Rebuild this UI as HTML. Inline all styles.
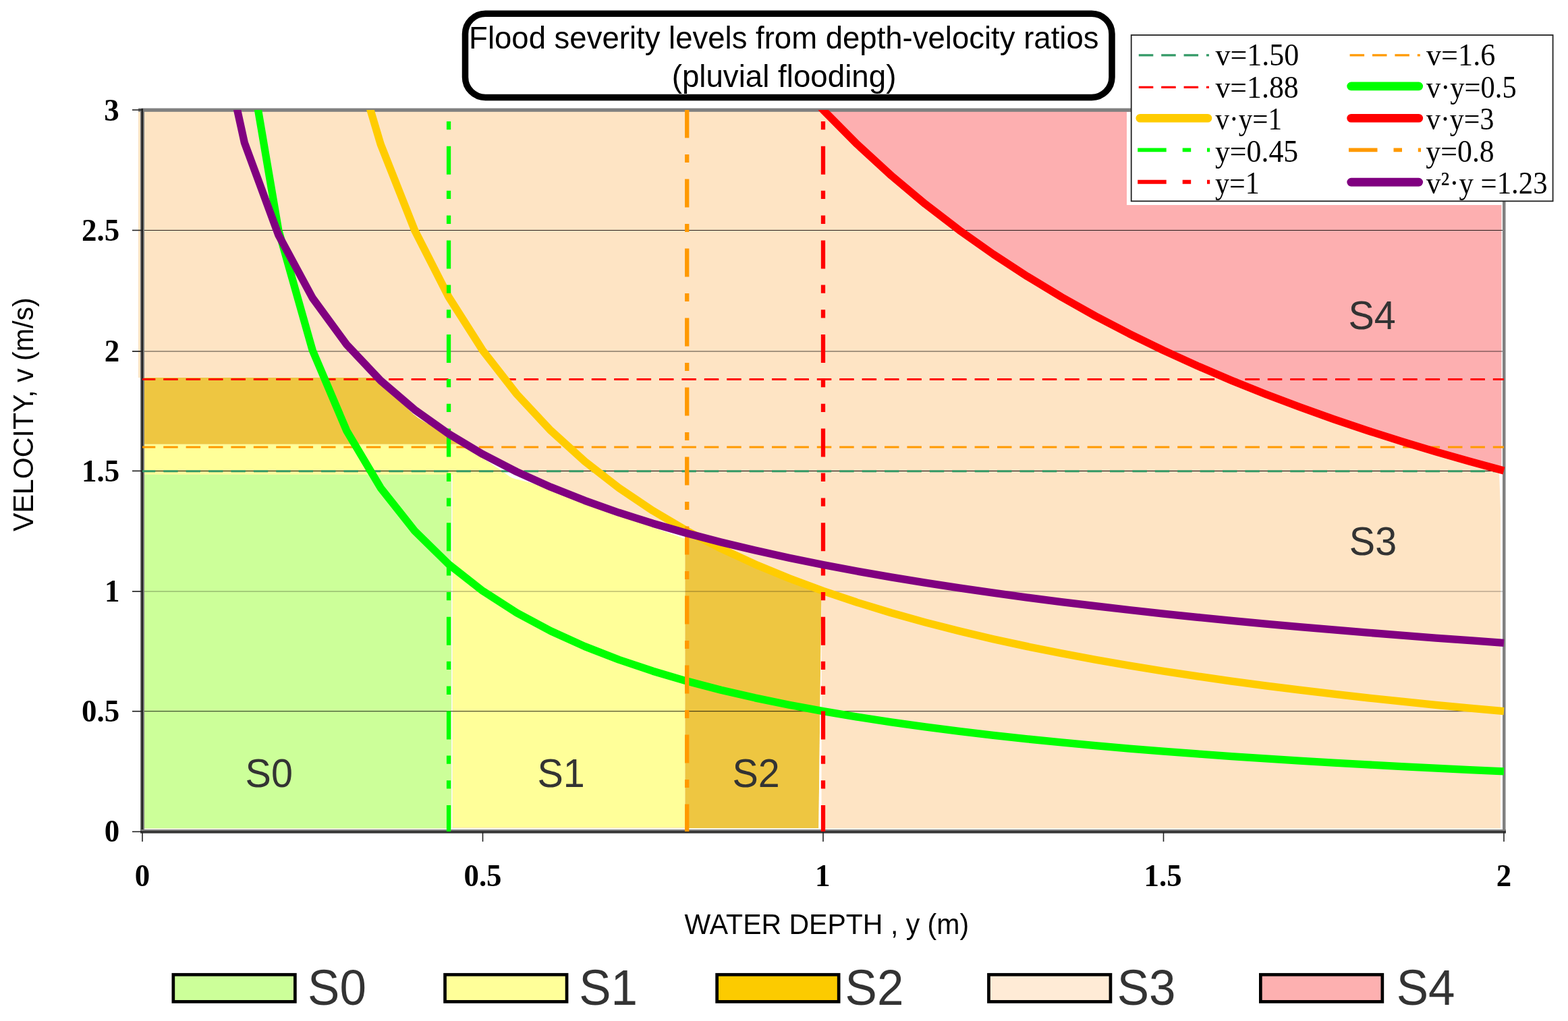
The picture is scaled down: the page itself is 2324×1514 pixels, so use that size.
<!DOCTYPE html>
<html><head><meta charset="utf-8"><title>Flood severity levels</title>
<style>html,body{margin:0;padding:0;background:#fff;overflow:hidden;}svg{display:block;}</style>
</head><body>
<svg width="2324" height="1514" viewBox="0 0 2324 1514">
<defs><clipPath id="pa"><rect x="205" y="163" width="2025.5" height="1070"/></clipPath></defs>
<rect x="0" y="0" width="2324" height="1514" fill="#fff"/>
<rect x="205" y="163" width="6" height="397" fill="#FEE4C4"/>
<rect x="211" y="163" width="2013" height="1065.5" fill="#FEE4C4"/>
<polygon points="1220,163 1220,162.99 1270.45,213.94 1320.9,260.26 1371.35,302.56 1421.8,341.32 1472.25,376.99 1522.7,409.92 1573.15,440.4 1623.6,468.71 1674.05,495.06 1724.5,519.66 1774.95,542.67 1825.4,564.24 1875.85,584.51 1926.3,603.58 1976.75,621.57 2027.2,638.55 2077.65,654.62 2128.1,669.84 2178.55,684.28 2225.5,693 2225.5,163" fill="#FDAFB0"/>
<polygon points="211,560 555.14,560 561.15,567.37 611.6,610.55 662.05,646.32 689.79,658.8 211,658.8" fill="#EEC641"/>
<rect x="211" y="658.8" width="460" height="44.9" fill="#FFFF99"/>
<polygon points="670.5,1227.2 670.5,658.8 691.79,658.8 715.5,677.58 765.95,703.62 816.4,726.33 866.85,746.36 917.3,764.21 967.75,780.24 1018.2,794.74 1015.5,794.74 1015.5,1227.2" fill="#FFFF99"/>
<rect x="211" y="703.7" width="458.2" height="524.8" fill="#CCFF99"/>
<rect x="669.2" y="703.7" width="1.3" height="524.8" fill="#fff"/>
<polygon points="1015.5,1228 1015.5,794.74 1068.65,813.39 1119.1,836.7 1169.55,857.56 1217.5,876.33 1213.3,1228" fill="#EEC641"/>
<polygon points="1217.5,876.33 1217.6,1228.5 1213.3,1228.5" fill="#fff"/>
<polygon points="2222,700 2227,700 2227,1228.5 2225.6,1228.5 2225.6,800" fill="#fff"/>
<polygon points="718,674.88 721.12,676.49 724.25,678.1 727.38,679.71 730.5,681.33 733.62,682.94 736.75,684.55 739.88,686.16 743,687.78 746.12,689.39 749.25,691 752.38,692.61 755.5,694.23 758.62,695.84 761.75,697.45 764.88,699.06 768,700.54 771.12,701.95 774.25,703.35 777.38,704.76 780.5,706.17 783.62,707.57 786.75,708.98 789.88,710.39 793,711.79 793,717.99 789.88,717.1 786.75,716.22 783.62,715.33 780.5,714.45 777.38,713.56 774.25,712.7 771.12,711.9 768,711.1 764.88,710.39 761.75,709.39 758.62,708.38 755.5,706.78 752.38,704.52 749.25,702.26 746.12,700.01 743,697.75 739.88,695.5 736.75,693.47 733.62,691.43 730.5,689.39 727.38,687.35 724.25,685.31 721.12,683.27 718,681.23" fill="#fff"/>
<polygon points="967,776 969.02,776.6 971.04,777.19 973.06,777.77 975.08,778.35 977.1,778.93 979.12,779.51 981.15,780.09 983.17,780.67 985.19,781.25 987.21,781.83 989.23,782.41 991.25,783 993.27,783.58 995.29,784.16 997.31,784.74 999.33,785.32 1001.35,785.9 1003.38,786.48 1005.4,787.06 1007.42,787.64 1009.44,788.22 1011.46,788.81 1013.48,789.39 1015.5,789.97 1015.5,798.85 1013.48,798.27 1011.46,797.65 1009.44,796.93 1007.42,796.21 1005.4,795.49 1003.38,794.77 1001.35,794.05 999.33,793.33 997.31,792.62 995.29,791.9 993.27,791.18 991.25,790.46 989.23,789.74 987.21,789.03 985.19,788.32 983.17,787.6 981.15,786.89 979.12,786.18 977.1,785.47 975.08,784.75 973.06,784.04 971.04,783.33 969.02,782.62 967,781.93" fill="#fff"/>
<polygon points="605,599.34 606.23,600.39 607.47,601.45 608.7,602.5 609.93,603.56 611.17,604.62 612.4,605.67 613.63,606.73 614.87,607.74 616.1,608.62 617.33,609.49 618.57,610.37 619.8,611.24 621.03,612.12 622.27,612.99 623.5,613.87 624.73,614.74 625.97,615.61 627.2,616.49 628.43,617.36 629.67,618.24 630.9,619.11 632.13,619.99 633.37,620.86 634.6,621.74 634.6,628.66 633.37,627.92 632.13,627.18 630.9,626.44 629.67,625.7 628.43,624.96 627.2,624.23 625.97,623.49 624.73,622.75 623.5,622.01 622.27,621.27 621.03,620.53 619.8,619.75 618.57,618.74 617.33,617.73 616.1,616.73 614.87,615.72 613.63,615.09 612.4,613.9 611.17,612.71 609.93,611.52 608.7,610.34 607.47,609.15 606.23,607.96 605,606.77" fill="#fff"/>
<g stroke="#000" stroke-width="1">
<line x1="196" y1="341.5" x2="2227" y2="341.5" stroke-opacity="0.85"/>
<line x1="196" y1="521" x2="2227" y2="521" stroke-opacity="0.7"/>
<line x1="196" y1="698.4" x2="2227" y2="698.4"/>
<line x1="196" y1="877" x2="2227" y2="877" stroke-opacity="0.4"/>
<line x1="196" y1="1054.7" x2="2227" y2="1054.7" stroke-opacity="0.85"/>
</g>
<rect x="1670" y="166" width="560" height="138" fill="#fff"/>
<rect x="205" y="160.5" width="1471" height="5.3" fill="#808080"/>
<rect x="2227" y="298" width="4.5" height="935" fill="#808080"/>
<rect x="208" y="161" width="6" height="1075" fill="#7a7a7a"/>
<rect x="209.5" y="161" width="2.5" height="1075" fill="#222"/>
<rect x="208" y="1230" width="2024" height="6" fill="#7a7a7a"/>
<rect x="208" y="1232.3" width="2024" height="2.5" fill="#2a2a2a"/>
<g stroke="#222" stroke-width="1.6">
<line x1="196" y1="1233.3" x2="210" y2="1233.3"/>
<line x1="196" y1="1054.7" x2="210" y2="1054.7"/>
<line x1="196" y1="877" x2="210" y2="877"/>
<line x1="196" y1="698.4" x2="210" y2="698.4"/>
<line x1="196" y1="521" x2="210" y2="521"/>
<line x1="196" y1="341.5" x2="210" y2="341.5"/>
<line x1="196" y1="163" x2="210" y2="163"/>
<line x1="211" y1="1234" x2="211" y2="1248"/>
<line x1="715.5" y1="1234" x2="715.5" y2="1248"/>
<line x1="1220" y1="1234" x2="1220" y2="1248"/>
<line x1="1724.5" y1="1234" x2="1724.5" y2="1248"/>
<line x1="2229" y1="1234" x2="2229" y2="1248"/>
</g>
<g clip-path="url(#pa)" stroke-width="3" fill="none">
<line x1="211" y1="698.7" stroke-dashoffset="2.2" x2="2229" y2="698.7" stroke="#339966" stroke-dasharray="21.5 11.9"/>
<line x1="211" y1="663.1" stroke-dashoffset="2.2" x2="2229" y2="663.1" stroke="#FF9900" stroke-dasharray="21.5 11.9"/>
<line x1="211" y1="562.6" stroke-dashoffset="2.2" x2="2229" y2="562.6" stroke="#FF0000" stroke-dasharray="21.5 11.9"/>
</g>
<g clip-path="url(#pa)" fill="none" stroke-width="11.3" stroke-linejoin="round">
<polyline points="362.35,44.1 412.8,341.32 463.25,519.66 513.7,638.55 564.15,723.47 614.6,787.16 665.05,836.7 715.5,876.33 765.95,908.75 816.4,935.77 866.85,958.64 917.3,978.24 967.75,995.22 1018.2,1010.08 1068.65,1023.19 1119.1,1034.85 1169.55,1045.28 1220,1054.66 1270.45,1063.16 1320.9,1070.88 1371.35,1077.93 1421.8,1084.39 1472.25,1090.33 1522.7,1095.82 1573.15,1100.9 1623.6,1105.62 1674.05,1110.01 1724.5,1114.11 1774.95,1117.95 1825.4,1121.54 1875.85,1124.92 1926.3,1128.1 1976.75,1131.09 2027.2,1133.92 2077.65,1136.6 2128.1,1139.14 2178.55,1141.55 2229,1143.83" stroke="#00FF00"/>
<polyline points="513.7,44.1 564.15,213.94 614.6,341.32 665.05,440.4 715.5,519.66 765.95,584.51 816.4,638.55 866.85,684.28 917.3,723.47 967.75,757.44 1018.2,787.16 1068.65,813.39 1119.1,836.7 1169.55,857.56 1220,876.33 1270.45,893.31 1320.9,908.75 1371.35,922.85 1421.8,935.77 1472.25,947.66 1522.7,958.64 1573.15,968.8 1623.6,978.24 1674.05,987.02 1724.5,995.22 1774.95,1002.89 1825.4,1010.08 1875.85,1016.84 1926.3,1023.19 1976.75,1029.19 2027.2,1034.85 2077.65,1040.21 2128.1,1045.28 2178.55,1050.09 2229,1054.66" stroke="#FFCC00"/>
<polyline points="1169.55,106.67 1220,162.99 1270.45,213.94 1320.9,260.26 1371.35,302.56 1421.8,341.32 1472.25,376.99 1522.7,409.92 1573.15,440.4 1623.6,468.71 1674.05,495.06 1724.5,519.66 1774.95,542.67 1825.4,564.24 1875.85,584.51 1926.3,603.58 1976.75,621.57 2027.2,638.55 2077.65,654.62 2128.1,669.84 2178.55,684.28 2229,698" stroke="#FF0000"/>
</g>
<g clip-path="url(#pa)" stroke-width="6.3" fill="none">
<line x1="665.05" y1="1236" x2="665.05" y2="163" stroke="#00FF00" stroke-dasharray="42 24.5 12.3 24.5 12.3 24"/>
<line x1="1018.2" y1="1234.5" x2="1018.2" y2="163" stroke="#FF9900" stroke-dasharray="42 24.5 12 24.5"/>
<line x1="1220" y1="1236" x2="1220" y2="163" stroke="#FF0000" stroke-dasharray="42 24.5 12.3 24.5 12.3 24"/>
</g>
<g clip-path="url(#pa)" fill="none" stroke-width="11.3" stroke-linejoin="round">
<polyline points="311.9,-17.89 362.35,211.65 412.8,348.49 463.25,441.87 513.7,510.8 564.15,564.37 614.6,607.55 665.05,643.32 715.5,673.58 765.95,699.62 816.4,722.33 866.85,742.36 917.3,760.21 967.75,776.24 1018.2,790.74 1068.65,803.95 1119.1,816.04 1169.55,827.16 1220,837.43 1270.45,846.97 1320.9,855.84 1371.35,864.13 1421.8,871.9 1472.25,879.19 1522.7,886.07 1573.15,892.55 1623.6,898.69 1674.05,904.5 1724.5,910.02 1774.95,915.27 1825.4,920.28 1875.85,925.05 1926.3,929.61 1976.75,933.98 2027.2,938.16 2077.65,942.17 2128.1,946.03 2178.55,949.73 2229,953.29" stroke="#800080"/>
</g>
<rect x="689.5" y="20.2" width="958.5" height="124.3" rx="30" ry="30" fill="#fff" stroke="#000" stroke-width="9.5"/>
<rect x="1676.7" y="52" width="624.9" height="246.3" fill="#fff" stroke="#222" stroke-width="1.8"/>
<line x1="1687.8" y1="81.9" x2="1792" y2="81.9" stroke="#339966" stroke-width="3.2" stroke-dasharray="21.5 11.9"/>
<line x1="2000.6" y1="81.9" x2="2104.8" y2="81.9" stroke="#FF9900" stroke-width="3.2" stroke-dasharray="21.5 11.9"/>
<line x1="1687.8" y1="129.3" x2="1792" y2="129.3" stroke="#FF0000" stroke-width="3.2" stroke-dasharray="21.5 11.9"/>
<line x1="2002.6" y1="127.9" x2="2102.8" y2="127.9" stroke="#00FF00" stroke-width="12.6" stroke-linecap="round"/>
<line x1="1689.8" y1="175.3" x2="1790" y2="175.3" stroke="#FFCC00" stroke-width="12.6" stroke-linecap="round"/>
<line x1="2002.6" y1="175.3" x2="2102.8" y2="175.3" stroke="#FF0000" stroke-width="12.6" stroke-linecap="round"/>
<line x1="1686.2" y1="222.4" x2="1793.2" y2="222.4" stroke="#00FF00" stroke-width="5.9" stroke-dasharray="42.5 24 12.5 23.8"/>
<line x1="1999" y1="222.4" x2="2106" y2="222.4" stroke="#FF9900" stroke-width="5.9" stroke-dasharray="42.5 24 12.5 23.8"/>
<line x1="1686.2" y1="269.8" x2="1793.2" y2="269.8" stroke="#FF0000" stroke-width="5.9" stroke-dasharray="42.5 24 12.5 23.8"/>
<line x1="2002.6" y1="270.1" x2="2102.8" y2="270.1" stroke="#800080" stroke-width="12.6" stroke-linecap="round"/>
<rect x="256.85" y="1445.25" width="180.5" height="40.1" fill="#CCFF99" stroke="#000" stroke-width="4.7"/>
<rect x="659.55" y="1445.25" width="180.5" height="40.1" fill="#FFFF99" stroke="#000" stroke-width="4.7"/>
<rect x="1062.65" y="1445.25" width="180.5" height="40.1" fill="#FCCB00" stroke="#000" stroke-width="4.7"/>
<rect x="1465.45" y="1445.25" width="180.5" height="40.1" fill="#FFEBD6" stroke="#000" stroke-width="4.7"/>
<rect x="1868.35" y="1445.25" width="180.5" height="40.1" fill="#FDB0B0" stroke="#000" stroke-width="4.7"/>
<text transform="translate(695.11,72.2) scale(1.0005,1.0000)" font-family="'Liberation Sans', sans-serif" font-size="45.5" fill="#000">Flood severity levels from depth-velocity ratios</text>
<text transform="translate(995.66,129) scale(1.0044,1.0000)" font-family="'Liberation Sans', sans-serif" font-size="45.5" fill="#000">(pluvial flooding)</text>
<text transform="translate(1014.59,1385) scale(1.0005,1.0250)" font-family="'Liberation Sans', sans-serif" font-size="41" fill="#000">WATER DEPTH , y (m)</text>
<text transform="translate(48.6,788.01) rotate(-90) scale(1.0015,1.0250)" font-family="'Liberation Sans', sans-serif" font-size="41.1" fill="#000">VELOCITY, v (m/s)</text>
<text transform="translate(154.65,1248.3) scale(1.0000,1.0470)" font-family="'Liberation Serif', serif" font-weight="bold" font-size="44.9" fill="#000">0</text>
<text transform="translate(120.97,1069.9) scale(1.0000,1.0470)" font-family="'Liberation Serif', serif" font-weight="bold" font-size="44.9" fill="#000">0.5</text>
<text transform="translate(155.09,891.8) scale(1.0000,1.0470)" font-family="'Liberation Serif', serif" font-weight="bold" font-size="44.9" fill="#000">1</text>
<text transform="translate(120.97,713.6) scale(1.0000,1.0470)" font-family="'Liberation Serif', serif" font-weight="bold" font-size="44.9" fill="#000">1.5</text>
<text transform="translate(154.65,535.8) scale(1.0000,1.0470)" font-family="'Liberation Serif', serif" font-weight="bold" font-size="44.9" fill="#000">2</text>
<text transform="translate(120.97,356.8) scale(1.0000,1.0470)" font-family="'Liberation Serif', serif" font-weight="bold" font-size="44.9" fill="#000">2.5</text>
<text transform="translate(154.2,178.8) scale(1.0000,1.0470)" font-family="'Liberation Serif', serif" font-weight="bold" font-size="44.9" fill="#000">3</text>
<text transform="translate(199.78,1314) scale(1.0000,1.0470)" font-family="'Liberation Serif', serif" font-weight="bold" font-size="44.9" fill="#000">0</text>
<text transform="translate(687.44,1314) scale(1.0000,1.0470)" font-family="'Liberation Serif', serif" font-weight="bold" font-size="44.9" fill="#000">0.5</text>
<text transform="translate(1208.1,1314) scale(1.0000,1.0470)" font-family="'Liberation Serif', serif" font-weight="bold" font-size="44.9" fill="#000">1</text>
<text transform="translate(1695.54,1314) scale(1.0000,1.0470)" font-family="'Liberation Serif', serif" font-weight="bold" font-size="44.9" fill="#000">1.5</text>
<text transform="translate(2217.78,1314) scale(1.0000,1.0470)" font-family="'Liberation Serif', serif" font-weight="bold" font-size="44.9" fill="#000">2</text>
<text transform="translate(363.62,1167.4) scale(1.0000,1.0430)" font-family="'Liberation Sans', sans-serif" font-size="57.5" fill="#333">S0</text>
<text transform="translate(796.52,1167.2) scale(1.0000,1.0430)" font-family="'Liberation Sans', sans-serif" font-size="57.5" fill="#333">S1</text>
<text transform="translate(1085.42,1167.2) scale(1.0000,1.0430)" font-family="'Liberation Sans', sans-serif" font-size="57.5" fill="#333">S2</text>
<text transform="translate(1999.83,823.3) scale(1.0000,1.0430)" font-family="'Liberation Sans', sans-serif" font-size="57.5" fill="#333">S3</text>
<text transform="translate(1998.42,487.8) scale(1.0000,1.0430)" font-family="'Liberation Sans', sans-serif" font-size="57.5" fill="#333">S4</text>
<text transform="translate(456.05,1490.4) scale(1.0000,1.0350)" font-family="'Liberation Sans', sans-serif" font-size="71" fill="#333">S0</text>
<text transform="translate(858.15,1490.4) scale(1.0000,1.0350)" font-family="'Liberation Sans', sans-serif" font-size="71" fill="#333">S1</text>
<text transform="translate(1252.55,1490.4) scale(1.0000,1.0350)" font-family="'Liberation Sans', sans-serif" font-size="71" fill="#333">S2</text>
<text transform="translate(1655.75,1490.4) scale(1.0000,1.0350)" font-family="'Liberation Sans', sans-serif" font-size="71" fill="#333">S3</text>
<text transform="translate(2069.65,1490.4) scale(1.0000,1.0350)" font-family="'Liberation Sans', sans-serif" font-size="71" fill="#333">S4</text>
<text transform="translate(1801.4,97.3) scale(1.0015,1.0450)" font-family="'Liberation Serif', serif" font-size="44" fill="#000">v=1.50</text>
<text transform="translate(2114,97.3) scale(1.0048,1.0450)" font-family="'Liberation Serif', serif" font-size="44" fill="#000">v=1.6</text>
<text transform="translate(1801.4,144.7) scale(0.9966,1.0450)" font-family="'Liberation Serif', serif" font-size="44" fill="#000">v=1.88</text>
<text transform="translate(2114,144.7) scale(0.9654,1.0450)" font-family="'Liberation Serif', serif" font-size="44" fill="#000">v·y=0.5</text>
<text transform="translate(1801.4,192.1) scale(0.9343,1.0450)" font-family="'Liberation Serif', serif" font-size="44" fill="#000">v·y=1</text>
<text transform="translate(2114,192.1) scale(0.9515,1.0450)" font-family="'Liberation Serif', serif" font-size="44" fill="#000">v·y=3</text>
<text transform="translate(1800.96,239.5) scale(0.9961,1.0450)" font-family="'Liberation Serif', serif" font-size="44" fill="#000">y=0.45</text>
<text transform="translate(2113.36,239.5) scale(0.9962,1.0450)" font-family="'Liberation Serif', serif" font-size="44" fill="#000">y=0.8</text>
<text transform="translate(1800.98,286.9) scale(0.9549,1.0450)" font-family="'Liberation Serif', serif" font-size="44" fill="#000">y=1</text>
<text transform="translate(2114,286.9) scale(0.9725,1.0450)" font-family="'Liberation Serif', serif" font-size="44" fill="#000">v²·y =1.23</text>
</svg>
</body></html>
